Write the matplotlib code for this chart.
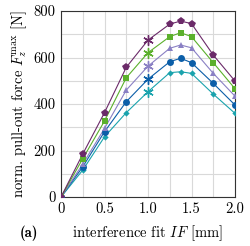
import matplotlib
matplotlib.use("Agg")
import matplotlib.pyplot as plt
import numpy as np

plt.rcParams['font.family'] = 'serif'
plt.rcParams['font.serif'] = ['cmr10']
plt.rcParams['mathtext.fontset'] = 'cm'
plt.rcParams['axes.formatter.use_mathtext'] = True
plt.rcParams['axes.unicode_minus'] = False

# interference fit [mm]
interference = [0, 0.25, 0.5, 0.75, 1.0, 1.25, 1.375, 1.5, 1.75, 2.0]

# normalised pull-out force [N]
force_purple = [0, 185, 363, 558, 675, 744, 757, 746, 611, 499]
force_green = [0, 165, 327, 513, 621, 690, 707, 690, 578, 466]
force_lavender = [0, 142, 295, 460, 563, 640, 654, 642, 532, 434]
force_blue = [0, 130, 281, 410, 507, 582, 597, 578, 489, 396]
force_teal = [0, 116, 259, 363, 453, 535, 539, 532, 443, 360]

xticks = [0, 0.5, 1.0, 1.5, 2.0]
xticklabels = ["0", "0.5", "1.0", "1.5", "2.0"]
yticks = [0, 200, 400, 600, 800]

series = [
    (force_teal, '#1aa3ad', 'D', 3.2),
    (force_blue, '#0b5ea8', 'o', 5),
    (force_lavender, '#8a80c4', '^', 5),
    (force_green, '#5bb02c', 's', 5),
    (force_purple, '#6b2a69', 'p', 5.5),
]

fig = plt.figure(figsize=(2.5, 2.46), dpi=100)
ax = fig.add_axes([0.244, 0.199, 0.696, 0.756])

x = np.array(interference)
star = x == 1.0
for vals, col, mk, ms in series:
    y = np.array(vals)
    ax.plot(x, y, '-', color=col, lw=0.8, zorder=3)
    ax.plot(x[~star], y[~star], linestyle='none', marker=mk, color=col,
            markersize=ms, markeredgewidth=0, zorder=4)
    ax.plot(x[star], y[star], linestyle='none', marker=(6, 2, 0), color=col,
            markersize=7.5, markeredgewidth=1.0, zorder=4)

ax.set_xlim(0, 2.0)
ax.set_ylim(0, 800)
ax.set_xticks(np.arange(0, 2.01, 0.25), minor=True)
ax.set_yticks(np.arange(0, 801, 100), minor=True)
ax.set_xticks(xticks)
ax.set_xticklabels(xticklabels)
ax.set_yticks(yticks)
ax.set_yticklabels([str(v) for v in yticks])
ax.grid(True, which='both', color='#d9d9d9', lw=0.8, zorder=0)
ax.set_axisbelow(True)
ax.tick_params(which='both', direction='in', length=0, labelsize=10.5, pad=4)
for s in ax.spines.values():
    s.set_color('#333333')
    s.set_linewidth(0.8)

ax.set_xlabel(r'interference fit $IF$ [mm]', fontsize=10.5, labelpad=5)
ax.set_ylabel(r'norm. pull-out force $F_z^{\rm max}$ [N]', fontsize=10.5, labelpad=3)
fig.text(0.08, 0.052, '(a)', fontsize=10.5, family='cmb10', ha='left', va='center')

fig.savefig('out.png', dpi=100)
